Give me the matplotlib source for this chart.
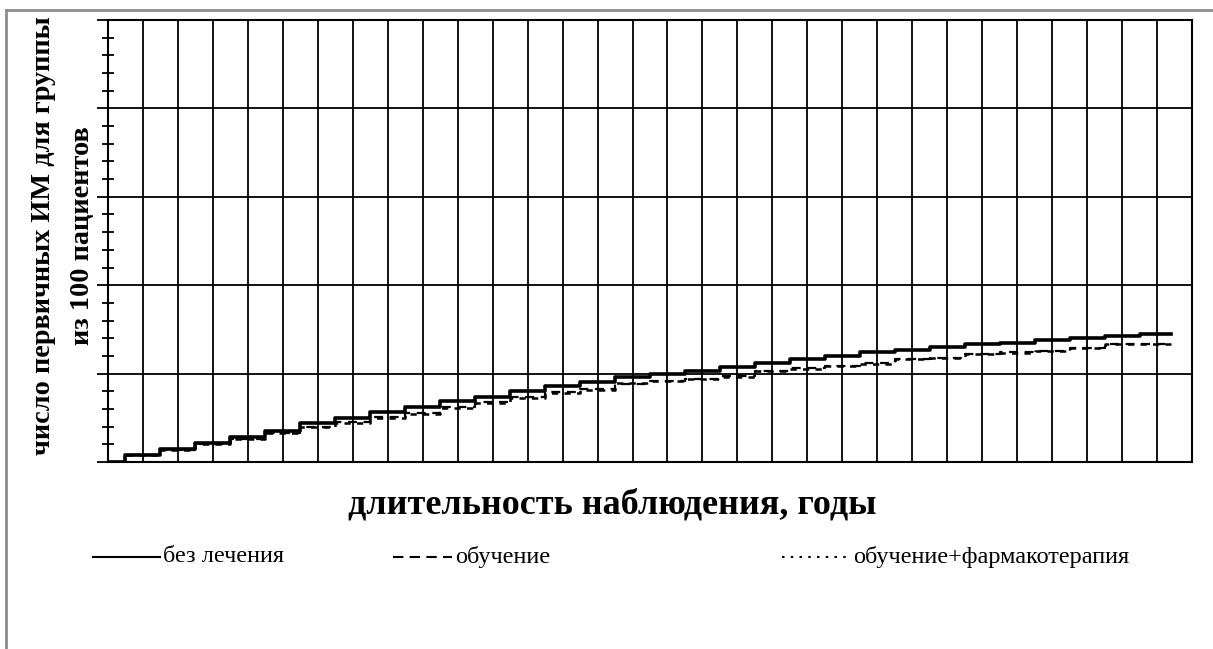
import matplotlib.pyplot as plt
from matplotlib.lines import Line2D
from matplotlib.ticker import MultipleLocator, NullFormatter
import numpy as np

plt.rcParams['font.family'] = ['Liberation Serif', 'DejaVu Serif']

# step positions (each step happens half way through the year interval)
steps = [k + 0.5 for k in range(30)]
end_x = 30.4

# number of first MI per 100 patients after each step
no_treatment = [0.8, 1.5, 2.1, 2.8, 3.5, 4.4, 5.0, 5.7, 6.2, 6.9,
                7.4, 8.0, 8.6, 9.1, 9.6, 9.9, 10.3, 10.8, 11.25, 11.6,
                12.0, 12.4, 12.7, 13.0, 13.3, 13.5, 13.8, 14.0, 14.2, 14.45]
education = [0.8, 1.4, 2.0, 2.6, 3.3, 4.0, 4.5, 5.1, 5.5, 6.2,
             6.8, 7.3, 7.9, 8.3, 8.8, 9.2, 9.4, 9.7, 10.3, 10.6,
             10.9, 11.2, 11.6, 11.8, 12.2, 12.4, 12.6, 12.9, 13.3, 13.3]
education_drugs = [0.8, 1.4, 2.0, 2.6, 3.3, 4.0, 4.4, 5.0, 5.4, 6.1,
                   6.7, 7.2, 7.8, 8.2, 8.9, 9.2, 9.4, 9.6, 10.3, 10.5,
                   10.9, 11.1, 11.6, 11.8, 12.2, 12.3, 12.6, 12.9, 13.3, 13.3]

fig = plt.figure(figsize=(12.13, 6.49), dpi=100)
ax = fig.add_axes([108 / 1213, 1 - 462 / 649, 1084 / 1213, 442 / 649])


def stairs(vals):
    xs = [0] + steps + [end_x]
    ys = [0] + vals + [vals[-1]]
    return xs, ys


x, y = stairs(education_drugs)
ax.step(x, y, where='post', color='black', lw=1.8, ls=(0, (2.5, 2.5)))
x, y = stairs(education)
ax.step(x, y, where='post', color='black', lw=1.6, ls=(0, (4, 3)))
x, y = stairs(no_treatment)
ax.step(x, y, where='post', color='black', lw=2.6)

ax.set_xlim(0, 31)
ax.set_ylim(0, 50)
ax.xaxis.set_major_locator(MultipleLocator(1))
ax.yaxis.set_major_locator(MultipleLocator(10))
ax.yaxis.set_minor_locator(MultipleLocator(2))
ax.xaxis.set_major_formatter(NullFormatter())
ax.yaxis.set_major_formatter(NullFormatter())
ax.grid(True, which='major', color='black', lw=1.3)
ax.tick_params(axis='x', length=0)
ax.tick_params(axis='y', which='major', direction='out', length=8, width=1.3)
ax.tick_params(axis='y', which='minor', direction='inout', length=9, width=1.3)
for s in ax.spines.values():
    s.set_linewidth(1.5)

# axis titles
fig.text(63 / 1213, 1 - 236 / 649, 'число первичных ИМ для группы\nиз 100 пациентов',
         fontsize=20.3, fontweight='bold', linespacing=1.75, rotation=90,
         ha='center', va='center', multialignment='center')
fig.text(612 / 1213, 1 - 505 / 649, 'длительность наблюдения, годы',
         fontsize=26, fontweight='bold', ha='center', va='center')

# legend row
ly = 1 - 557 / 649
items = [(93, 160, '-', 'без лечения'),
         (393, 452, (0, (5, 3)), 'обучение'),
         (782, 850, (0, (1.2, 3)), 'обучение+фармакотерапия')]
for x0, x1, ls, label in items:
    fig.add_artist(Line2D([x0 / 1213, x1 / 1213], [ly, ly], color='black',
                          lw=1.5, ls=ls, transform=fig.transFigure))
    fig.text((x1 + 3) / 1213, ly, label, fontsize=17.5, ha='left', va='center')

# outer frame (top and left edges)
fig.add_artist(Line2D([6 / 1213, 1], [1 - 10 / 649, 1 - 10 / 649], color='#8c8c8c',
                      lw=2, transform=fig.transFigure))
fig.add_artist(Line2D([6 / 1213, 6 / 1213], [0, 1 - 10 / 649], color='#8c8c8c',
                      lw=2, transform=fig.transFigure))

fig.savefig('out.png', dpi=100)
